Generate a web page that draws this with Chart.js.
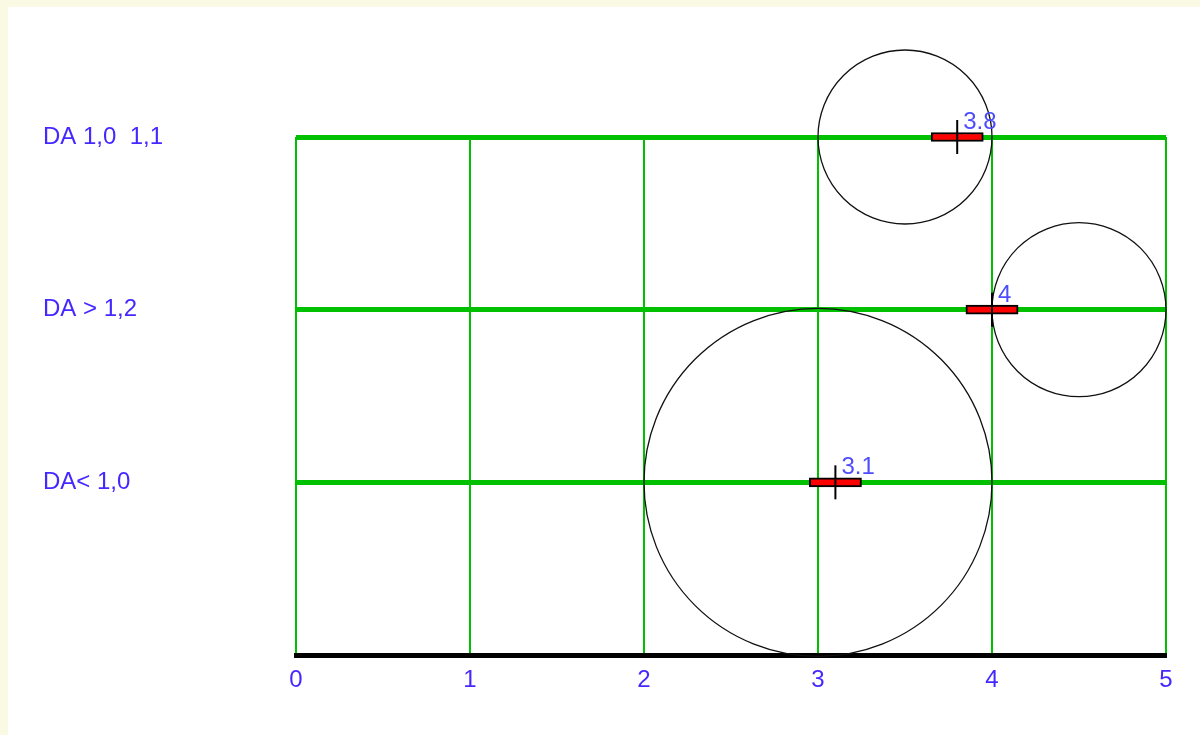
<!DOCTYPE html>
<html lang="de">
<head>
<meta charset="UTF-8">
<title>DA Diagramm</title>
<style>
    body {
        margin: 0;
        background: #faf9e3;
    }

    .chart_box {
        position: absolute;
        left: 8px;
        top: 7px;
        width: 1192px;
        height: 728px;
        background: #ffffff;
    }
</style>
</head>
<body>
<div class="chart_box">
    <canvas id="daChart" width="1192" height="728"></canvas>
</div>

<script src="https://cdn.jsdelivr.net/npm/chart.js"></script>
<script>
// Daten
const xMin = 0;
const xMax = 5;
const yTickLabels = ['', 'DA< 1,0', 'DA > 1,2', 'DA 1,0  1,1'];

const rowY = [3, 2, 1];
const markX = [3.8, 4, 3.1];
const markLabels = ['3.8', '4', '3.1'];
const barFrom = [3.65, 3.85, 2.95];
const barTo = [3.95, 4.15, 3.25];

const circleX = [3.5, 4.5, 3];
const circleY = [3, 2, 1];
const circleR = [0.5, 0.5, 1];

const textColor = '#4428ff';
const gridGreen = '#00c000';
const fontFamily = "'Liberation Sans', Arial, sans-serif";

// Kreise und Werte-Beschriftung
const kreisPlugin = {
    id: 'kreise',
    beforeDatasetsDraw(chart) {
        const { ctx, scales: { x, y } } = chart;
        ctx.save();
        ctx.strokeStyle = '#111111';
        ctx.lineWidth = 1.3;
        for (let i = 0; i < circleX.length; i++) {
            const cx = x.getPixelForValue(circleX[i]);
            const cy = y.getPixelForValue(circleY[i]);
            const r = x.getPixelForValue(circleX[i] + circleR[i]) - cx;
            ctx.beginPath();
            ctx.arc(cx, cy, r, 0, Math.PI * 2);
            ctx.stroke();
        }
        ctx.restore();
    },
    afterDatasetsDraw(chart) {
        const { ctx, scales: { x, y } } = chart;
        ctx.save();
        ctx.fillStyle = '#4d4dff';
        ctx.font = '24px ' + fontFamily;
        ctx.textAlign = 'left';
        ctx.textBaseline = 'alphabetic';
        for (let i = 0; i < markX.length; i++) {
            const px = x.getPixelForValue(markX[i]);
            const py = y.getPixelForValue(rowY[i]);
            ctx.fillText(markLabels[i], px + 6, py - 8);
        }
        ctx.restore();
    }
};

const ctx = document.getElementById('daChart').getContext('2d');

new Chart(ctx, {
    type: 'scatter',
    data: {
        datasets: [
            {
                label: 'Messwert',
                data: markX.map((v, i) => ({ x: v, y: rowY[i] })),
                pointStyle: 'line',
                rotation: 90,
                radius: 17,
                borderColor: '#000000',
                borderWidth: 2,
                showLine: false,
                clip: false,
            },
            {
                type: 'bar',
                label: 'Bereich',
                indexAxis: 'y',
                data: rowY.map((v, i) => ({ y: v, x: [barFrom[i], barTo[i]] })),
                backgroundColor: '#ff0000',
                borderColor: '#000000',
                borderWidth: 2,
                borderSkipped: false,
                barThickness: 9,
                grouped: false,
                clip: false,
            },
        ],
    },
    options: {
        responsive: false,
        animation: false,
        devicePixelRatio: 1,
        layout: {
            padding: { left: 35, top: 130, right: 34, bottom: 0 },
        },
        plugins: {
            legend: { display: false },
            tooltip: { enabled: false },
        },
        scales: {
            x: {
                type: 'linear',
                min: xMin,
                max: xMax,
                offset: false,
                afterFit: (s) => { s.height = 80; },
                ticks: {
                    stepSize: 1,
                    color: textColor,
                    padding: 11,
                    font: { size: 24, family: fontFamily },
                },
                grid: {
                    color: gridGreen,
                    lineWidth: 2,
                    drawTicks: false,
                    offset: false,
                },
                border: {
                    color: '#000000',
                    width: 5,
                },
            },
            y: {
                type: 'linear',
                min: 0,
                max: 3,
                offset: false,
                afterFit: (s) => { s.width = 253; },
                ticks: {
                    stepSize: 1,
                    crossAlign: 'far',
                    color: textColor,
                    font: { size: 24, family: fontFamily },
                    callback: (v) => yTickLabels[v],
                },
                grid: {
                    color: gridGreen,
                    lineWidth: (c) => (c.tick && c.tick.value === 0 ? 0 : 5),
                    drawTicks: false,
                    offset: false,
                },
                border: { display: false },
            },
        },
    },
    plugins: [kreisPlugin],
});
</script>
</body>
</html>
